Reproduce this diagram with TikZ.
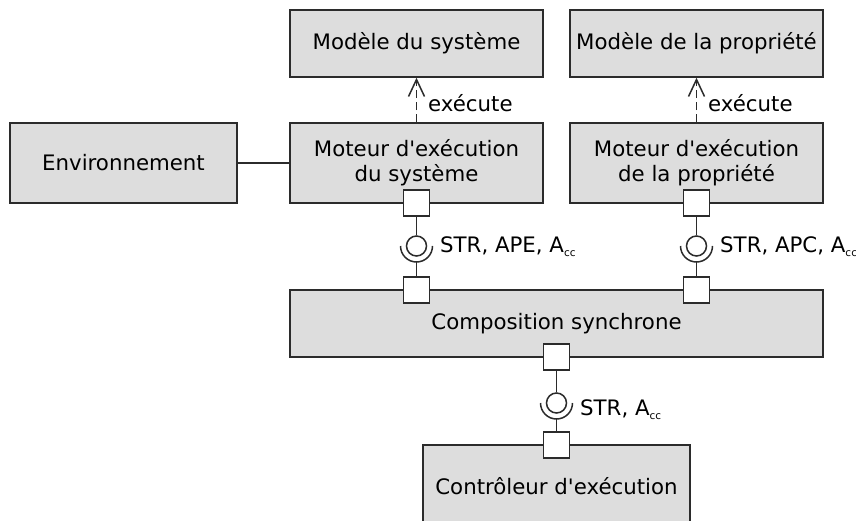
\documentclass[tikz,border=0pt]{standalone}
\usepackage{fontspec}
\setmainfont{DejaVu Sans}[Ligatures=TeXOff]
\usetikzlibrary{arrows.meta}
\definecolor{boxfill}{HTML}{DDDDDD}
\definecolor{linec}{HTML}{2B2B2B}
\newcommand{\subcc}{\raisebox{-4pt}{\fontsize{10.5}{10.5}\selectfont cc}}
\tikzset{
  box/.style={draw=linec, fill=boxfill, line width=1.5pt, inner sep=0pt, align=center},
  port/.style={draw=linec, fill=white, line width=1.5pt, minimum size=26pt, inner sep=0pt},
  ball/.style={draw=linec, line width=1.5pt, circle, minimum size=20pt, inner sep=0pt},
  conn/.style={draw=linec, line width=1.5pt},
  dep/.style={draw=linec, line width=1.5pt, dash pattern=on 8pt off 4pt, -{Straight Barb[length=17pt,width=16pt,line width=1.5pt]}},
  lbl/.style={inner sep=0pt, anchor=base west}
}
\begin{document}
\begin{tikzpicture}[x=1pt,y=-1pt,font=\fontsize{21.3}{24.8}\selectfont]
\clip (0,0) rectangle (856,521);
\fill[white] (0,0) rectangle (856,521);
% boxes
\node[box, minimum width=253pt, minimum height=67pt] (ms) at (416.5,43.5) {Modèle du système};
\node[box, minimum width=253pt, minimum height=67pt] (mp) at (696.5,43.5) {Modèle de la propriété};
\node[box, minimum width=227pt, minimum height=80pt] (env) at (123.5,163) {Environnement};
\node[box, minimum width=253pt, minimum height=80pt] (mes) at (416.5,163) {Moteur d'exécution\\du système};
\node[box, minimum width=253pt, minimum height=80pt] (mep) at (696.5,163) {Moteur d'exécution\\de la propriété};
\node[box, minimum width=533pt, minimum height=67pt] (comp) at (556.5,323.5) {Composition synchrone};
\node[box, minimum width=267pt, minimum height=82pt] (ctrl) at (556.5,486) {Contrôleur d'exécution};
% dependency arrows
\draw[dep] (mes.north) -- (ms.south);
\draw[dep] (mep.north) -- (mp.south);
\node[lbl] (ex1) at (428,112) {exécute};
\node[lbl] (ex2) at (708,112) {exécute};
% environment link
\draw[conn] (env.east) -- (mes.west);
% ports
\node[port] (p1) at (416.5,203) {};
\node[port] (p2) at (416.5,290) {};
\node[port] (p3) at (696.5,203) {};
\node[port] (p4) at (696.5,290) {};
\node[port] (p5) at (556.5,357) {};
\node[port] (p6) at (556.5,445) {};
% balls
\node[ball] (b1) at (416.5,246) {};
\node[ball] (b2) at (696.5,246) {};
\node[ball] (b3) at (556.5,403) {};
% sockets
\coordinate (s1) at (416.5,262);
\coordinate (s2) at (696.5,262);
\coordinate (s3) at (556.5,419);
\draw[conn] ([xshift=16pt]b1.center) arc[start angle=0,end angle=180,radius=16];
\draw[conn] ([xshift=16pt]b2.center) arc[start angle=0,end angle=180,radius=16];
\draw[conn] ([xshift=16pt]b3.center) arc[start angle=0,end angle=180,radius=16];
% lines
\draw[conn] (p1.south) -- (b1.north);
\draw[conn] (s1) -- (p2.north);
\draw[conn] (p3.south) -- (b2.north);
\draw[conn] (s2) -- (p4.north);
\draw[conn] (p5.south) -- (b3.north);
\draw[conn] (s3) -- (p6.north);
% labels
\node[lbl] (l1) at (440,252) {STR, APE, A\subcc};
\node[lbl] (l2) at (720,252) {STR, APC, A\subcc};
\node[lbl] (l3) at (580,415) {STR, A\subcc};
\end{tikzpicture}
\end{document}
